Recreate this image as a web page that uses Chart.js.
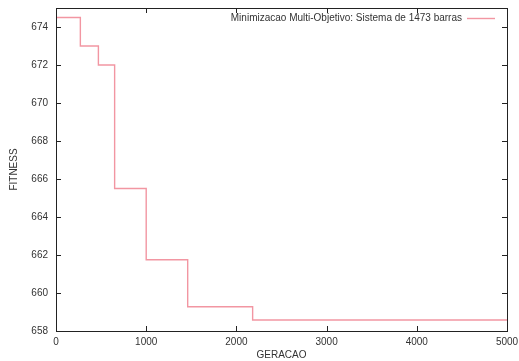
<!DOCTYPE html>
<html>
<head>
<meta charset="utf-8">
<script src="https://cdn.jsdelivr.net/npm/chart.js@4/dist/chart.umd.min.js"></script>
<style>
html,body{margin:0;padding:0;background:#fff;}
#wrap{width:519px;height:361px;}
</style>
</head>
<body>
<div id="wrap"><canvas id="c" width="519" height="361"></canvas></div>
<script>
// Data
const generations = [0, 270, 470, 650, 1000, 1460, 2180, 5000];
const fitness = [674.5, 673.0, 672.0, 665.5, 661.75, 659.28, 658.58, 658.58];
const seriesLabel = 'Minimizacao Multi-Objetivo: Sistema de 1473 barras';
const xTicks = [0, 1000, 2000, 3000, 4000, 5000];
const yTicks = [658, 660, 662, 664, 666, 668, 670, 672, 674];
const xTitle = 'GERACAO';
const yTitle = 'FITNESS';

const points = generations.map((g, i) => ({x: g, y: fitness[i]}));
const lineColor = 'rgb(242,150,162)';
const FONT = "'Liberation Sans', Arial, sans-serif";

const framePlugin = {
  id: 'frame',
  afterDraw(chart) {
    const {ctx, chartArea: a, scales} = chart;
    ctx.save();
    ctx.strokeStyle = '#222';
    ctx.lineWidth = 1;
    ctx.strokeRect(Math.round(a.left) + 0.5, Math.round(a.top) + 0.5, Math.round(a.right - a.left), Math.round(a.bottom - a.top));
    const tl = 5;
    ctx.beginPath();
    xTicks.forEach(v => {
      const px = Math.round(scales.x.getPixelForValue(v)) + 0.5;
      ctx.moveTo(px, a.bottom); ctx.lineTo(px, a.bottom - tl);
      ctx.moveTo(px, a.top); ctx.lineTo(px, a.top + tl);
    });
    yTicks.forEach(v => {
      const py = Math.round(scales.y.getPixelForValue(v)) + 0.5;
      ctx.moveTo(a.left, py); ctx.lineTo(a.left + tl, py);
      ctx.moveTo(a.right, py); ctx.lineTo(a.right - tl, py);
    });
    ctx.stroke();
    // legend inside top right
    const ds = chart.data.datasets[0];
    ctx.font = '10px ' + FONT;
    ctx.fillStyle = '#333';
    ctx.textAlign = 'right';
    ctx.textBaseline = 'middle';
    const ly = a.top + 10;
    const lineEnd = a.right - 12;
    const lineStart = lineEnd - 28;
    ctx.fillText(ds.label, lineStart - 5, ly);
    ctx.strokeStyle = ds.borderColor;
    ctx.lineWidth = ds.borderWidth;
    ctx.beginPath();
    ctx.moveTo(lineStart, ly + 0.5); ctx.lineTo(lineEnd, ly + 0.5);
    ctx.stroke();
    ctx.restore();
  }
};

new Chart(document.getElementById('c'), {
  type: 'scatter',
  data: {
    datasets: [{
      label: seriesLabel,
      data: points,
      showLine: true,
      stepped: 'before',
      borderColor: lineColor,
      backgroundColor: lineColor,
      borderWidth: 1.4,
      pointRadius: 0,
      fill: false
    }]
  },
  options: {
    responsive: false,
    animation: false,
    layout: {padding: {top: 8, right: 12, left: 0, bottom: 0}},
    plugins: {legend: {display: false}, tooltip: {enabled: false}},
    scales: {
      x: {
        type: 'linear', min: 0, max: 5000,
        afterBuildTicks: s => { s.ticks = xTicks.map(v => ({value: v})); },
        afterFit: s => { s.height = 30; s.paddingLeft = 0; s.paddingRight = 0; },
        grid: {display: false, drawTicks: false, tickLength: 0},
        border: {display: false},
        ticks: {font: {family: FONT, size: 10}, color: '#333', padding: 5, maxRotation: 0,
                align: 'center', callback: v => String(v)},
        title: {display: true, text: xTitle, font: {family: FONT, size: 10}, color: '#333', padding: {top: 0, bottom: 0}}
      },
      y: {
        type: 'linear', min: 658, max: 675,
        afterBuildTicks: s => { s.ticks = yTicks.map(v => ({value: v})); },
        afterFit: s => { s.width = 56; s.paddingTop = 0; s.paddingBottom = 0; },
        grid: {display: false, drawTicks: false, tickLength: 0},
        border: {display: false},
        ticks: {font: {family: FONT, size: 10}, color: '#333', padding: 8,
                callback: v => String(v)},
        title: {display: true, text: yTitle, font: {family: FONT, size: 10}, color: '#333', padding: {top: 8, bottom: 0}}
      }
    }
  },
  plugins: [framePlugin]
});
</script>
</body>
</html>
